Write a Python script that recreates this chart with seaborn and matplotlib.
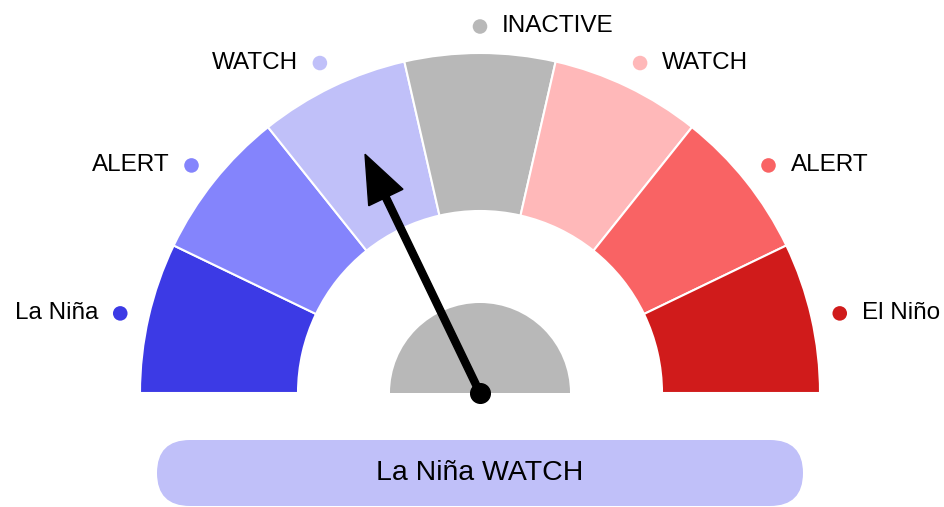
import numpy as np
import pandas as pd
import matplotlib
matplotlib.use('Agg')
import matplotlib.pyplot as plt
from matplotlib.patches import Wedge, FancyArrow, FancyBboxPatch
import seaborn as sns

# gauge categories (left to right)
labels = ['La Niña', 'ALERT', 'WATCH', 'INACTIVE', 'WATCH', 'ALERT', 'El Niño']
colors = ['#3c3ae5', '#8484fc', '#c0c0f9', '#b8b8b8', '#ffb8b9', '#f96364', '#d01b1b']
shares = [1, 1, 1, 1, 1, 1, 1]
current = 2  # index of active state
status_text = 'La Niña WATCH'

sns.set_theme(style='white')
plt.rcParams['font.family'] = ['Liberation Sans', 'DejaVu Sans']

R_OUT, R_IN, R_HUB, R_LAB = 340, 182, 90, 369

fig = plt.figure(figsize=(9.45, 5.07), dpi=100)
ax = fig.add_axes([0, 0, 1, 1])

# half-donut: pie with a hidden lower half
vals = shares + [sum(shares)]
wedges, _ = ax.pie(vals, radius=R_OUT, startangle=180, counterclock=False,
                   colors=colors + ['none'],
                   wedgeprops=dict(width=R_OUT - R_IN, edgecolor='white', linewidth=1.5))
wedges[-1].set_edgecolor('none')

# inner hub
ax.add_patch(Wedge((0, 0), R_HUB, 0, 180, color='#b8b8b8', lw=0))

# label positions at the middle of each segment
step = 180 / len(shares)
mids = 180 - step * (np.arange(len(shares)) + 0.5)
df = pd.DataFrame({'label': labels, 'ang': mids})
df['x'] = R_LAB * np.cos(np.radians(df['ang']))
df['y'] = R_LAB * np.sin(np.radians(df['ang'])) - 2.5
df['key'] = [f'{i}' for i in range(len(labels))]
sns.scatterplot(data=df, x='x', y='y', hue='key', palette=colors, s=110,
                edgecolor='none', legend=False, ax=ax, zorder=3)
for i, row in df.iterrows():
    if i < 3:
        ax.text(row['x'] - 22, row['y'], row['label'], ha='right', va='center', fontsize=17.5, color='black')
    else:
        ax.text(row['x'] + 22, row['y'], row['label'], ha='left', va='center', fontsize=17.5, color='black')

# needle
a = np.radians(mids[current])
L = 265
ax.add_patch(FancyArrow(0, 0, L * np.cos(a), L * np.sin(a), width=7, head_width=38,
                        head_length=48, length_includes_head=True, color='black', zorder=5))
ax.scatter([0], [0], s=200, color='black', zorder=6)

# status box
ax.add_patch(FancyBboxPatch((-323, -113), 646, 66, boxstyle='round,pad=0,rounding_size=33',
                            facecolor='#c0c0f9', edgecolor='none'))
ax.text(0, -80, status_text, ha='center', va='center', fontsize=20.5, color='black')

ax.set_xlim(-480, 465)
ax.set_ylim(-114, 393)
ax.set_aspect('equal')
ax.axis('off')

plt.savefig('out.png', dpi=100)
